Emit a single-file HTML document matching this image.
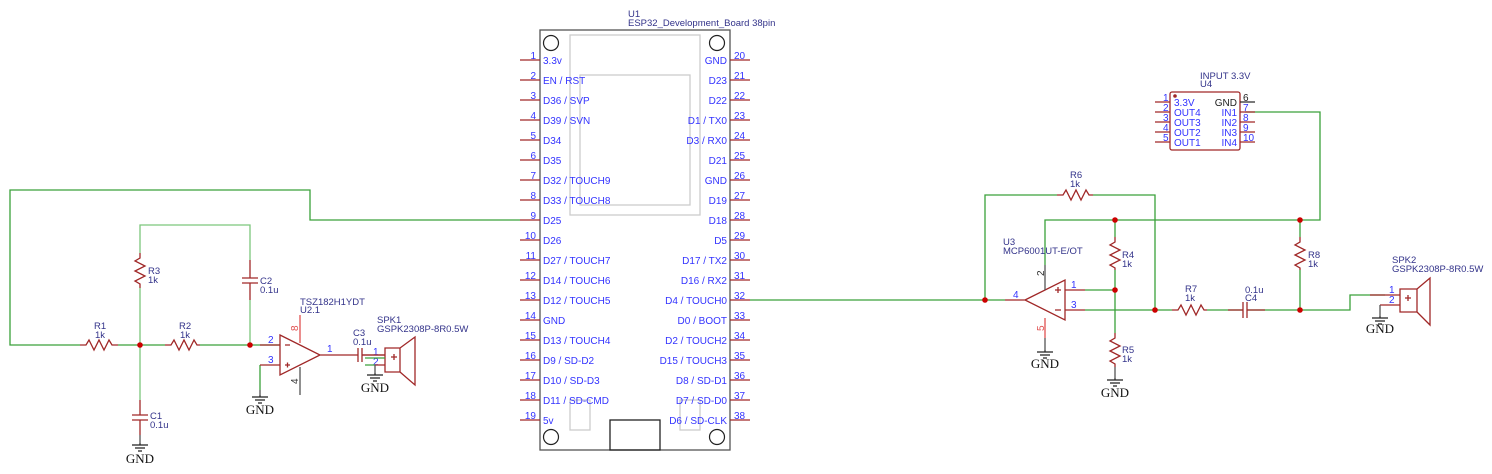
<!DOCTYPE html>
<html><head><meta charset="utf-8"><style>
html,body{margin:0;padding:0;background:#fff;}
svg{display:block;}
text{font-family:"Liberation Sans",sans-serif;}
.pn{fill:#3333ff;font-size:10px;}
.lb{fill:#33338a;font-size:9.5px;}
.gt{font-family:"Liberation Serif",serif;font-size:13px;fill:#111;}
.w{stroke:#3aa13a;stroke-width:1.3;fill:none;}
.lw{stroke:#7cc77c;stroke-width:1.3;fill:none;}
.r{stroke:#a02828;stroke-width:1.3;fill:none;}
.g{stroke:#555;stroke-width:1.3;fill:none;}
</style></head><body>
<svg width="1492" height="474" viewBox="0 0 1492 474" xmlns="http://www.w3.org/2000/svg">
<defs>
<g id="gnd"><path d="M0 0 V2 M-8 2 H8 M-5 5 H5 M-2 8 H2" stroke="#222" stroke-width="1.2" fill="none"/></g>
</defs>

<!-- ESP32 -->
<text x="628" y="17" class="lb">U1</text>
<text x="628" y="26" class="lb">ESP32_Development_Board 38pin</text>
<rect x="540" y="30" width="190" height="420" fill="none" stroke="#555" stroke-width="1.3"/>
<rect x="570" y="35" width="130" height="180" fill="none" stroke="#ccc" stroke-width="1.3"/>
<rect x="580" y="75" width="110" height="130" fill="none" stroke="#ccc" stroke-width="1.3"/>
<rect x="570" y="400" width="20" height="30" fill="none" stroke="#ccc" stroke-width="1.3"/>
<rect x="680" y="400" width="20" height="30" fill="none" stroke="#ccc" stroke-width="1.3"/>
<rect x="610" y="420" width="50" height="30" fill="none" stroke="#222" stroke-width="1.3"/>
<circle cx="551" cy="43" r="7.5" fill="none" stroke="#222" stroke-width="1.2"/>
<circle cx="717" cy="43" r="7.5" fill="none" stroke="#222" stroke-width="1.2"/>
<circle cx="551" cy="437" r="7.5" fill="none" stroke="#222" stroke-width="1.2"/>
<circle cx="717" cy="437" r="7.5" fill="none" stroke="#222" stroke-width="1.2"/>
<g class="r">
<path d="M520 60H540M520 80H540M520 100H540M520 120H540M520 140H540M520 160H540M520 180H540M520 200H540M520 220H540M520 240H540M520 260H540M520 280H540M520 300H540M520 320H540M520 340H540M520 360H540M520 380H540M520 400H540M520 420H540"/>
<path d="M730 60H750M730 80H750M730 100H750M730 120H750M730 140H750M730 160H750M730 180H750M730 200H750M730 220H750M730 240H750M730 260H750M730 280H750M730 300H750M730 320H750M730 340H750M730 360H750M730 380H750M730 400H750M730 420H750"/>
</g>
<g class="pn">
<text x="536" y="59" text-anchor="end">1</text><text x="543" y="64">3.3v</text>
<text x="536" y="79" text-anchor="end">2</text><text x="543" y="84">EN / RST</text>
<text x="536" y="99" text-anchor="end">3</text><text x="543" y="104">D36 / SVP</text>
<text x="536" y="119" text-anchor="end">4</text><text x="543" y="124">D39 / SVN</text>
<text x="536" y="139" text-anchor="end">5</text><text x="543" y="144">D34</text>
<text x="536" y="159" text-anchor="end">6</text><text x="543" y="164">D35</text>
<text x="536" y="179" text-anchor="end">7</text><text x="543" y="184">D32 / TOUCH9</text>
<text x="536" y="199" text-anchor="end">8</text><text x="543" y="204">D33 / TOUCH8</text>
<text x="536" y="219" text-anchor="end">9</text><text x="543" y="224">D25</text>
<text x="536" y="239" text-anchor="end">10</text><text x="543" y="244">D26</text>
<text x="536" y="259" text-anchor="end">11</text><text x="543" y="264">D27 / TOUCH7</text>
<text x="536" y="279" text-anchor="end">12</text><text x="543" y="284">D14 / TOUCH6</text>
<text x="536" y="299" text-anchor="end">13</text><text x="543" y="304">D12 / TOUCH5</text>
<text x="536" y="319" text-anchor="end">14</text><text x="543" y="324">GND</text>
<text x="536" y="339" text-anchor="end">15</text><text x="543" y="344">D13 / TOUCH4</text>
<text x="536" y="359" text-anchor="end">16</text><text x="543" y="364">D9 / SD-D2</text>
<text x="536" y="379" text-anchor="end">17</text><text x="543" y="384">D10 / SD-D3</text>
<text x="536" y="399" text-anchor="end">18</text><text x="543" y="404">D11 / SD-CMD</text>
<text x="536" y="419" text-anchor="end">19</text><text x="543" y="424">5v</text>
</g>
<g class="pn" text-anchor="end">
<text x="727" y="64">GND</text><text x="727" y="84">D23</text><text x="727" y="104">D22</text><text x="727" y="124">D1 / TX0</text><text x="727" y="144">D3 / RX0</text><text x="727" y="164">D21</text><text x="727" y="184">GND</text><text x="727" y="204">D19</text><text x="727" y="224">D18</text><text x="727" y="244">D5</text><text x="727" y="264">D17 / TX2</text><text x="727" y="284">D16 / RX2</text><text x="727" y="304">D4 / TOUCH0</text><text x="727" y="324">D0 / BOOT</text><text x="727" y="344">D2 / TOUCH2</text><text x="727" y="364">D15 / TOUCH3</text><text x="727" y="384">D8 / SD-D1</text><text x="727" y="404">D7 / SD-D0</text><text x="727" y="424">D6 / SD-CLK</text>
</g>
<g class="pn">
<text x="734" y="59">20</text><text x="734" y="79">21</text><text x="734" y="99">22</text><text x="734" y="119">23</text><text x="734" y="139">24</text><text x="734" y="159">25</text><text x="734" y="179">26</text><text x="734" y="199">27</text><text x="734" y="219">28</text><text x="734" y="239">29</text><text x="734" y="259">30</text><text x="734" y="279">31</text><text x="734" y="299">32</text><text x="734" y="319">33</text><text x="734" y="339">34</text><text x="734" y="359">35</text><text x="734" y="379">36</text><text x="734" y="399">37</text><text x="734" y="419">38</text>
</g>

<!-- Left circuit wires -->
<path class="w" d="M520 220H310V190H10V345H80"/>
<path class="w" d="M118 345H165M200 345H280M260 365V390"/>
<path class="lw" d="M140 253V225H250V260M250 300V345M140 288V400"/>
<path class="r" d="M80 345H86L89 340L94 350L99 340L104 350L109 340L112 345H118"/>
<path class="r" d="M165 345H171L174 340L179 350L184 340L189 350L194 340L197 345H200"/>
<path class="r" d="M140 253V258L135 261L145 266L135 271L145 276L135 281L140 284V288"/>
<path class="r" d="M250 260V278M242 278H258M242 283H258M250 283V300"/>
<path class="r" d="M140 400V415M132 415H148M132 420H148M140 420V435"/>
<path class="g" d="M140 435V443"/>
<use href="#gnd" x="140" y="443"/>
<text x="140" y="463" text-anchor="middle" class="gt">GND</text>
<circle cx="140" cy="345" r="2.8" fill="#c00"/>
<circle cx="250" cy="345" r="2.8" fill="#c00"/>
<g class="lb"><text x="94" y="329">R1</text><text x="95" y="338">1k</text>
<text x="179" y="329">R2</text><text x="180" y="338">1k</text>
<text x="148" y="274">R3</text><text x="148" y="283">1k</text>
<text x="260" y="284">C2</text><text x="260" y="293">0.1u</text>
<text x="150" y="419">C1</text><text x="150" y="428">0.1u</text>
<text x="300" y="305">TSZ182H1YDT</text><text x="300" y="313">U2.1</text>
<text x="353" y="336">C3</text><text x="353" y="345">0.1u</text>
<text x="377" y="323">SPK1</text><text x="377" y="332">GSPK2308P-8R0.5W</text></g>
<!-- U2 opamp -->
<path class="r" d="M280 335L320 355L280 375Z M260 345H280M260 365H280M320 355H358M362 355H385M358 348V362M362 348V362"/>
<path d="M300 315V343" stroke="#e05050" stroke-width="1.3"/>
<path class="g" d="M300 367V395"/>
<path class="r" d="M285 345h5M285 365h5M287.5 362.5v5"/>
<text x="298" y="331" style="fill:#e05050;font-size:10px" transform="rotate(-90 298 331)">8</text>
<text x="298" y="384" style="fill:#333;font-size:10px" transform="rotate(-90 298 384)">4</text>
<g class="pn"><text x="268" y="343">2</text><text x="268" y="363">3</text><text x="327" y="352">1</text><text x="373" y="355">1</text><text x="373" y="365">2</text></g>
<path class="g" d="M260 390V395"/>
<use href="#gnd" x="260" y="395"/>
<text x="260" y="414" text-anchor="middle" class="gt">GND</text>
<!-- SPK1 -->
<path class="r" d="M385 348H400V372H385Z M400 348L415 337V385L400 372 M362 355H385M375 365H385 M391 357h6M394 354v6"/>
<path class="w" d="M365 358H385M365 365H375"/>
<path class="g" d="M375 365V373"/>
<use href="#gnd" x="375" y="373"/>
<text x="375" y="392" text-anchor="middle" class="gt">GND</text>

<!-- Right circuit -->
<path class="w" d="M750 300H1005"/>
<path class="w" d="M985 300V195H1057M1093 195H1155V310M1045 265V220H1320V112H1245M1085 290H1115M1085 310H1172M1207 310H1243M1247 310H1350V295H1385M1115 220V237M1115 270V333M1300 220V237M1300 270V310"/>
<path class="r" d="M1057 195H1063L1066 190L1071 200L1076 190L1081 200L1086 190L1089 195H1093"/>
<path class="r" d="M1172 310H1178L1181 305L1186 315L1191 305L1196 315L1201 305L1204 310H1207"/>
<path class="r" d="M1115 237V242L1110 245L1120 250L1110 255L1120 260L1110 265L1115 268V270"/>
<path class="r" d="M1300 237V242L1295 245L1305 250L1295 255L1305 260L1295 265L1300 268V270"/>
<path class="r" d="M1115 333V338L1110 341L1120 346L1110 351L1120 356L1110 361L1115 364V367"/>
<path class="r" d="M1228 310H1243M1243 302V318M1247 302V318M1247 310H1265"/>
<path class="g" d="M1115 367V378"/>
<use href="#gnd" x="1115" y="378"/>
<text x="1115" y="397" text-anchor="middle" class="gt">GND</text>
<path class="r" d="M1025 300L1065 280V320Z M1005 300H1025M1065 290H1085M1065 310H1085 M1055 290h6M1058 287v6M1055 310h6"/>
<path class="g" d="M1045 265V290"/>
<path d="M1045 318V338" stroke="#e05050" stroke-width="1.3"/>
<path class="g" d="M1045 338V350"/>
<use href="#gnd" x="1045" y="350"/>
<text x="1045" y="368" text-anchor="middle" class="gt">GND</text>
<text x="1044" y="276" style="fill:#333;font-size:10px" transform="rotate(-90 1044 276)">2</text>
<text x="1044" y="331" style="fill:#e05050;font-size:10px" transform="rotate(-90 1044 331)">5</text>
<g class="pn"><text x="1013" y="298">4</text><text x="1071" y="288">1</text><text x="1071" y="308">3</text></g>
<g class="lb"><text x="1003" y="245">U3</text><text x="1003" y="254">MCP6001UT-E/OT</text>
<text x="1070" y="178">R6</text><text x="1070" y="187">1k</text>
<text x="1122" y="258">R4</text><text x="1122" y="267">1k</text>
<text x="1122" y="353">R5</text><text x="1122" y="362">1k</text>
<text x="1185" y="292">R7</text><text x="1185" y="301">1k</text>
<text x="1245" y="293">0.1u</text><text x="1245" y="301">C4</text>
<text x="1308" y="258">R8</text><text x="1308" y="267">1k</text>
<text x="1392" y="263">SPK2</text><text x="1392" y="272">GSPK2308P-8R0.5W</text>
<text x="1200" y="79">INPUT 3.3V</text><text x="1200" y="87">U4</text></g>
<g fill="#c00"><circle cx="985" cy="300" r="2.8"/><circle cx="1115" cy="220" r="2.8"/><circle cx="1300" cy="220" r="2.8"/><circle cx="1115" cy="290" r="2.8"/><circle cx="1155" cy="310" r="2.8"/><circle cx="1300" cy="310" r="2.8"/></g>
<path class="r" d="M1370 295H1400M1380 305H1400 M1400 289H1417V312H1400Z M1417 289L1430 278V325L1417 312 M1405 298h6M1408 295v6"/>
<path class="g" d="M1380 305V316"/>
<use href="#gnd" x="1380" y="316"/>
<text x="1380" y="333" text-anchor="middle" class="gt">GND</text>
<g class="pn"><text x="1389" y="293">1</text><text x="1389" y="303">2</text></g>
<rect x="1170" y="92" width="70" height="58" rx="2" fill="none" stroke="#a02828" stroke-width="1.3"/>
<circle cx="1175" cy="96" r="1.8" fill="#a02828"/>
<path class="r" d="M1155 102H1170M1155 112H1170M1155 122H1170M1155 132H1170M1155 142H1170M1240 112H1255M1240 122H1255M1240 132H1255M1240 142H1255"/>
<path d="M1240 102H1255" stroke="#222" stroke-width="1.2"/>
<g class="pn" style="font-size:10px"><text x="1174" y="106">3.3V</text><text x="1174" y="116">OUT4</text><text x="1174" y="126">OUT3</text><text x="1174" y="136">OUT2</text><text x="1174" y="146">OUT1</text>
<text x="1237" y="116" text-anchor="end">IN1</text><text x="1237" y="126" text-anchor="end">IN2</text><text x="1237" y="136" text-anchor="end">IN3</text><text x="1237" y="146" text-anchor="end">IN4</text>
<text x="1163" y="101">1</text><text x="1163" y="111">2</text><text x="1163" y="121">3</text><text x="1163" y="131">4</text><text x="1163" y="141">5</text>
<text x="1243" y="111">7</text><text x="1243" y="121">8</text><text x="1243" y="131">9</text><text x="1243" y="141">10</text></g>
<text x="1237" y="106" text-anchor="end" style="fill:#222;font-size:10px">GND</text>
<text x="1243" y="101" style="fill:#222;font-size:10px">6</text>
</svg>
</body></html>
